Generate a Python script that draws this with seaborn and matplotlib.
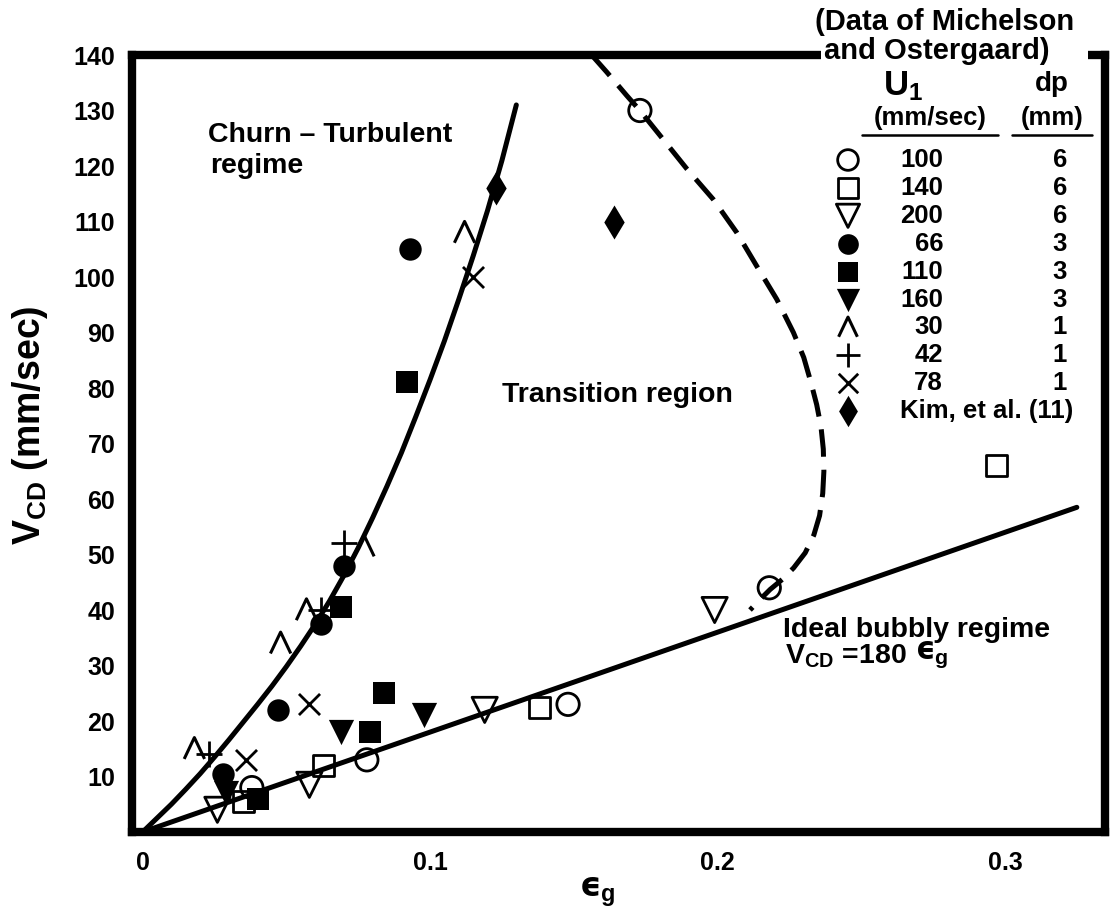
import matplotlib
matplotlib.use("Agg")
import numpy as np
import pandas as pd
import matplotlib.pyplot as plt
import seaborn as sns
from matplotlib.path import Path
from matplotlib.patches import Rectangle

# ---------------------------------------------------------------- data
# Michelson & Ostergaard data: void fraction eps_g and drift velocity V_CD (mm/s)
open_circle_eps = [0.173, 0.218, 0.148, 0.078, 0.038]
open_circle_v = [130, 44, 23, 13, 8]
open_square_eps = [0.297, 0.138, 0.063, 0.035]
open_square_v = [66, 22.5, 12, 5.5]
open_tri_eps = [0.199, 0.119, 0.058, 0.026]
open_tri_v = [40, 22, 8.5, 4]
filled_circle_eps = [0.093, 0.070, 0.062, 0.047, 0.028]
filled_circle_v = [105, 48, 37.5, 22, 10.5]
filled_square_eps = [0.092, 0.069, 0.084, 0.079, 0.040]
filled_square_v = [81, 40.5, 25, 18, 6]
filled_tri_eps = [0.069, 0.098, 0.029]
filled_tri_v = [18, 21, 7]
caret_eps = [0.112, 0.077, 0.057, 0.048, 0.018]
caret_v = [108, 51.5, 40, 34, 15]
plus_eps = [0.070, 0.062, 0.023]
plus_v = [52, 40, 14]
cross_eps = [0.115, 0.058, 0.036]
cross_v = [100, 23, 13]
kim_eps = [0.123, 0.164]
kim_v = [116, 110]

# churn-turbulent boundary
churn_eps = [0, 0.005, 0.01, 0.015, 0.02, 0.025, 0.03, 0.035, 0.04, 0.045,
             0.05, 0.055, 0.06, 0.065, 0.07, 0.075, 0.08, 0.085, 0.09, 0.095,
             0.10, 0.105, 0.11, 0.115, 0.12, 0.125, 0.13]
churn_v = [0, 2.5, 5.0, 7.7, 10.5, 13.5, 16.6, 19.8, 23.0, 26.3,
           29.8, 33.5, 37.4, 41.6, 46.2, 51.2, 56.6, 62.3, 68.3, 74.8,
           81.5, 88.5, 96.0, 103.8, 112.0, 121.0, 131.0]

# transition boundary (dashed)
trans_eps = [0.1562, 0.1615, 0.1684, 0.1730, 0.1800, 0.1893, 0.1985, 0.2067,
             0.2136, 0.2206, 0.2264, 0.2300, 0.2325, 0.2345, 0.2360, 0.2368,
             0.2370, 0.2366, 0.2355, 0.2335, 0.2305, 0.2265, 0.2225, 0.2183,
             0.2150, 0.2113]
trans_v = [140, 136.9, 132.7, 130.0, 125.5, 119.5, 114.0, 108.0,
           102.0, 96.0, 90.0, 85.5, 81.0, 77.0, 73.0, 69.0,
           65.0, 61.0, 57.0, 53.5, 50.3, 47.6, 45.5, 43.7,
           42.0, 40.0]

# ideal bubbly regime: V_CD = 180 eps_g
bubbly_coef = 180
bubbly_eps = [0.0, 0.325]

# legend table
legend_u1 = ["100", "140", "200", "66", "110", "160", "30", "42", "78"]
legend_dp = ["6", "6", "6", "3", "3", "3", "1", "1", "1"]
kim_label = "Kim, et al. (11)"

x_ticks = [0, 0.1, 0.2, 0.3]
x_tick_labels = ["0", "0.1", "0.2", "0.3"]
y_ticks = list(range(10, 141, 10))

# ---------------------------------------------------------------- style
sns.set_theme(style="white")
plt.rcParams["font.family"] = ["Liberation Sans", "DejaVu Sans"]
plt.rcParams["font.weight"] = "bold"
plt.rcParams["text.color"] = "black"
plt.rcParams["axes.labelcolor"] = "black"
plt.rcParams["xtick.color"] = "black"
plt.rcParams["ytick.color"] = "black"
plt.rcParams["mathtext.fontset"] = "custom"
plt.rcParams["mathtext.rm"] = "Liberation Sans:bold"
plt.rcParams["mathtext.it"] = "Liberation Sans:bold"
plt.rcParams["mathtext.bf"] = "Liberation Sans:bold"
plt.rcParams["mathtext.sf"] = "Liberation Sans:bold"

W, H = 1117, 913
fig = plt.figure(figsize=(W / 100, H / 100), dpi=100)
fig.patch.set_facecolor("white")
L, R, B, T = 132, 1105, 832, 55
ax = fig.add_axes([L / W, (H - B) / H, (R - L) / W, (B - T) / H])
ax.set_facecolor("white")
ax.set_xlim(-0.0037, 0.3348)
ax.set_ylim(0, 140)

caret = Path([(-0.5, -0.5), (0.0, 0.55), (0.5, -0.5)],
             [Path.MOVETO, Path.LINETO, Path.LINETO])

series = [
    (open_circle_eps, open_circle_v, "o", 260, False, 2.0),
    (open_square_eps, open_square_v, "s", 230, False, 2.0),
    (open_tri_eps, open_tri_v, "v", 330, False, 2.0),
    (filled_circle_eps, filled_circle_v, "o", 260, True, 0),
    (filled_square_eps, filled_square_v, "s", 250, True, 0),
    (filled_tri_eps, filled_tri_v, "v", 330, True, 0),
    (caret_eps, caret_v, caret, 260, False, 2.2),
    (plus_eps, plus_v, "+", 330, None, 2.0),
    (cross_eps, cross_v, "x", 230, None, 2.0),
    (kim_eps, kim_v, "d", 300, True, 0),
]

# boundary lines
sns.lineplot(x=churn_eps, y=churn_v, ax=ax, color="black", lw=3.6,
             sort=False, zorder=3)
bub = pd.DataFrame({"eps": bubbly_eps})
bub["v"] = bubbly_coef * bub["eps"]
sns.lineplot(data=bub, x="eps", y="v", ax=ax, color="black", lw=3.6, zorder=3)
sns.lineplot(x=trans_eps, y=trans_v, ax=ax, color="black", lw=3.6,
             sort=False, zorder=3)
ax.lines[-1].set_dashes((5.5, 2.6))


def draw(xs, ys, marker, s, filled, lw, target, **kw):
    if filled is True:
        sns.scatterplot(x=xs, y=ys, ax=target, marker=marker, s=s,
                        color="black", edgecolor="black", linewidth=0, **kw)
    elif filled is False:
        sns.scatterplot(x=xs, y=ys, ax=target, marker=marker, s=s,
                        facecolor="none", edgecolor="black", linewidth=lw,
                        **kw)
    else:
        sns.scatterplot(x=xs, y=ys, ax=target, marker=marker, s=s,
                        color="black", linewidth=lw, **kw)


for xs, ys, m, s, f, lw in series:
    draw(xs, ys, m, s, f, lw, ax, zorder=4, clip_on=False)

# axes frame
for side in ["left", "right", "top", "bottom"]:
    ax.spines[side].set_visible(True)
    ax.spines[side].set_color("black")
    ax.spines[side].set_linewidth(6.0)
    ax.spines[side].set_zorder(5)

ax.set_xticks(x_ticks)
ax.set_xticklabels(x_tick_labels)
ax.set_yticks(y_ticks)
ax.set_yticklabels([str(v) for v in y_ticks])
ax.tick_params(axis="both", direction="in", length=14, width=2.5,
               color="black", labelsize=18, labelcolor="black")
ax.tick_params(axis="y", pad=12)
ax.tick_params(axis="x", pad=14)
ax.xaxis.get_major_ticks()[0].tick1line.set_visible(False)
ax.set_xlabel("")
ax.set_ylabel("")

# break in the top frame under the legend heading
ax.add_patch(Rectangle((0.708, 0.985), 0.275, 0.03, transform=ax.transAxes,
                       facecolor="white", edgecolor="none", clip_on=False,
                       zorder=6))

# axis titles
fig.text(30 / W, 1 - 425 / H, r"$\mathrm{V}_{\mathrm{CD}}$ (mm/sec)",
         rotation=90, ha="center", va="center", fontsize=27,
         fontweight="bold")
fig.text(597 / W, 1 - 892 / H, "\u03f5$_{\\mathrm{g}}$", ha="center",
         va="center", fontsize=24, fontweight="bold",
         family=["DejaVu Sans"])

# region annotations
ax.text(0.0228, 125.6, "Churn \u2013 Turbulent", fontsize=20.5,
        fontweight="bold", va="center", ha="left")
ax.text(0.0235, 120.0, "regime", fontsize=20.5, fontweight="bold",
        va="center", ha="left")
ax.text(0.125, 78.7, "Transition region", fontsize=20.5, fontweight="bold",
        va="center", ha="left")
ax.text(0.2228, 36.4, "Ideal bubbly regime", fontsize=20.5, fontweight="bold",
        va="center", ha="left")
eq = ax.text(0.2235, 30.3, "V$_{\\mathrm{CD}}$ =180", fontsize=20.5,
             fontweight="bold", va="baseline", ha="left")
ax.annotate("\u03f5$_{\\mathrm{g}}$", xy=(1, 0), xycoords=eq,
            xytext=(6, 0), textcoords="offset points", va="bottom",
            ha="left", fontsize=22, fontweight="bold",
            family=["DejaVu Sans"])


# legend table
def fx(px):
    return (px - L) / (R - L)


def fy(py):
    return (B - py) / (B - T)


ax.text(fx(945), fy(22), "(Data of Michelson", transform=ax.transAxes,
        fontsize=21, fontweight="bold", ha="center", va="center", zorder=7)
ax.text(fx(937), fy(51), "and Ostergaard)", transform=ax.transAxes,
        fontsize=21, fontweight="bold", ha="center", va="center", zorder=7)
ax.text(fx(903), fy(86), r"$\mathrm{U}_{1}$", transform=ax.transAxes,
        fontsize=25, ha="center", va="center")
ax.text(fx(1052), fy(84), "dp", transform=ax.transAxes, fontsize=20,
        fontweight="bold", ha="center", va="center")
ax.text(fx(930), fy(118), "(mm/sec)", transform=ax.transAxes, fontsize=18.5,
        fontweight="bold", ha="center", va="center")
ax.text(fx(1052), fy(118), "(mm)", transform=ax.transAxes, fontsize=18.5,
        fontweight="bold", ha="center", va="center")
ax.plot([fx(862), fx(998)], [fy(135), fy(135)], transform=ax.transAxes,
        color="black", lw=1.8, clip_on=False)
ax.plot([fx(1012), fx(1092)], [fy(135), fy(135)], transform=ax.transAxes,
        color="black", lw=1.8, clip_on=False)

row0, step = 160, 27.9
for i, (xs, ys, m, s, f, lw) in enumerate(series):
    py = row0 + i * step
    draw([fx(848)], [fy(py)], m, s * 0.85, f, lw, ax,
         transform=ax.transAxes, clip_on=False, zorder=7)
    if i < len(legend_u1):
        ax.text(fx(943), fy(py), legend_u1[i], transform=ax.transAxes,
                fontsize=18.5, fontweight="bold", ha="right", va="center")
        ax.text(fx(1060), fy(py), legend_dp[i], transform=ax.transAxes,
                fontsize=18.5, fontweight="bold", ha="center", va="center")
    else:
        ax.text(fx(900), fy(py), kim_label, transform=ax.transAxes,
                fontsize=18.5, fontweight="bold", ha="left", va="center")

if ax.get_legend() is not None:
    ax.get_legend().remove()

fig.savefig("out.png", dpi=100, facecolor="white")
